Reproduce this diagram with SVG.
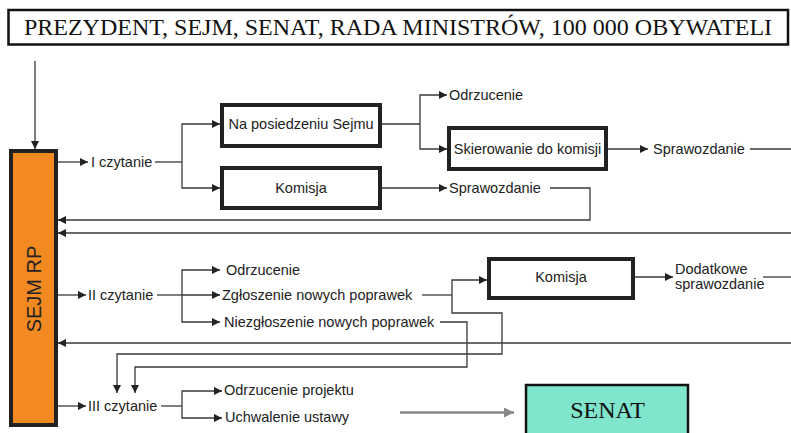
<svg xmlns="http://www.w3.org/2000/svg" width="791" height="433" viewBox="0 0 791 433">
<defs>
<marker id="ah" viewBox="0 0 10 10" refX="10" refY="5" markerWidth="9" markerHeight="8" markerUnits="userSpaceOnUse" orient="auto"><path d="M0,0 L10,5 L0,10 z" fill="#222"/></marker>
<marker id="ahg" viewBox="0 0 10 10" refX="10" refY="5" markerWidth="11" markerHeight="10" markerUnits="userSpaceOnUse" orient="auto"><path d="M0,0 L10,5 L0,10 z" fill="#888"/></marker>
<style>
.t{font-family:"Liberation Sans",Arial,sans-serif;font-size:14.5px;fill:#222}
.c{text-anchor:middle}
.box{fill:#fff;stroke:#222;stroke-width:4}
.ln{fill:none;stroke:#3a3a3a;stroke-width:1.3}
.ar{marker-end:url(#ah)}
.serif{font-family:"Liberation Serif","Times New Roman",serif;font-size:24px;fill:#111}
</style>
</defs>
<rect width="791" height="433" fill="#fff"/>

<g id="title">
<rect x="8.5" y="10" width="779.5" height="34.5" fill="#fff" stroke="#111" stroke-width="2.5"/>
<text class="serif c" x="398" y="35" font-size="24.3">PREZYDENT, SEJM, SENAT, RADA MINISTRÓW, 100 000 OBYWATELI</text>
</g>

<g id="sejm">
<rect x="11" y="151" width="45" height="274" fill="#F28A21" stroke="#222" stroke-width="4"/>
<text transform="translate(40.5,289) rotate(-90)" text-anchor="middle" font-family="Liberation Sans, Arial, sans-serif" font-size="20" fill="#222">SEJM RP</text>
</g>

<g id="na-posiedzeniu">
<rect class="box" x="222" y="105" width="158" height="41"/>
<text class="t c" x="301" y="129">Na posiedzeniu Sejmu</text>
</g>
<g id="komisja1">
<rect class="box" x="222" y="168" width="158" height="40"/>
<text class="t c" x="301" y="193">Komisja</text>
</g>
<g id="skierowanie">
<rect class="box" x="449" y="128" width="157" height="41"/>
<text class="t c" x="527.5" y="154">Skierowanie do komisji</text>
</g>
<g id="komisja2">
<rect class="box" x="489" y="259" width="144" height="39"/>
<text class="t c" x="561" y="282">Komisja</text>
</g>
<g id="senat">
<rect x="526" y="385" width="162" height="52" fill="#80E5CD" stroke="#111" stroke-width="2.5"/>
<text class="serif c" x="607.5" y="418">SENAT</text>
</g>

<g id="labels">
<text class="t" x="91" y="167">I czytanie</text>
<text class="t" x="449" y="100">Odrzucenie</text>
<text class="t" x="653" y="154">Sprawozdanie</text>
<text class="t" x="449" y="193">Sprawozdanie</text>
<text class="t" x="88" y="300">II czytanie</text>
<text class="t" x="226" y="275">Odrzucenie</text>
<text class="t" x="222" y="300">Zgłoszenie nowych poprawek</text>
<text class="t" x="224" y="327">Niezgłoszenie nowych poprawek</text>
<text class="t" x="675" y="274" font-size="14">Dodatkowe</text>
<text class="t" x="675" y="289" font-size="14">sprawozdanie</text>
<text class="t" x="88" y="411">III czytanie</text>
<text class="t" x="224" y="395">Odrzucenie projektu</text>
<text class="t" x="225" y="422">Uchwalenie ustawy</text>
</g>

<g id="connectors">
<path class="ln ar" d="M35,61 V149"/>
<path class="ln ar" d="M58,162 H88"/>
<path class="ln" d="M155,162 H182"/>
<path class="ln ar" d="M182,162 V124 H220"/>
<path class="ln ar" d="M182,162 V188 H220"/>
<path class="ln" d="M382,124 H420"/>
<path class="ln ar" d="M420,124 V95 H447"/>
<path class="ln ar" d="M420,124 V149 H447"/>
<path class="ln ar" d="M608,149 H648"/>
<path class="ln" d="M750,149 H791"/>
<path class="ln ar" d="M382,188 H447"/>
<path class="ln ar" d="M550,188 H590 V220 H58"/>
<path class="ln ar" d="M791,233 H58"/>
<path class="ln ar" d="M58,295 H86"/>
<path class="ln" d="M157,295 H182"/>
<path class="ln ar" d="M182,295 V270 H220"/>
<path class="ln ar" d="M182,295 H220"/>
<path class="ln ar" d="M182,295 V322 H220"/>
<path class="ln" d="M422,295 H452"/>
<path class="ln ar" d="M452,295 V280 H487"/>
<path class="ln ar" d="M452,295 V313 H502 V354 H117 V393"/>
<path class="ln ar" d="M440,322 H467 V367 H135 V393"/>
<path class="ln ar" d="M635,277 H673"/>
<path class="ln" d="M763,277 H791"/>
<path class="ln ar" d="M791,343 H58"/>
<path class="ln ar" d="M58,406 H86"/>
<path class="ln" d="M161,406 H182"/>
<path class="ln ar" d="M182,406 V391 H222"/>
<path class="ln ar" d="M182,406 V418 H222"/>
<path d="M400,412.5 H514" fill="none" stroke="#888" stroke-width="2.5" marker-end="url(#ahg)"/>
</g>
</svg>
